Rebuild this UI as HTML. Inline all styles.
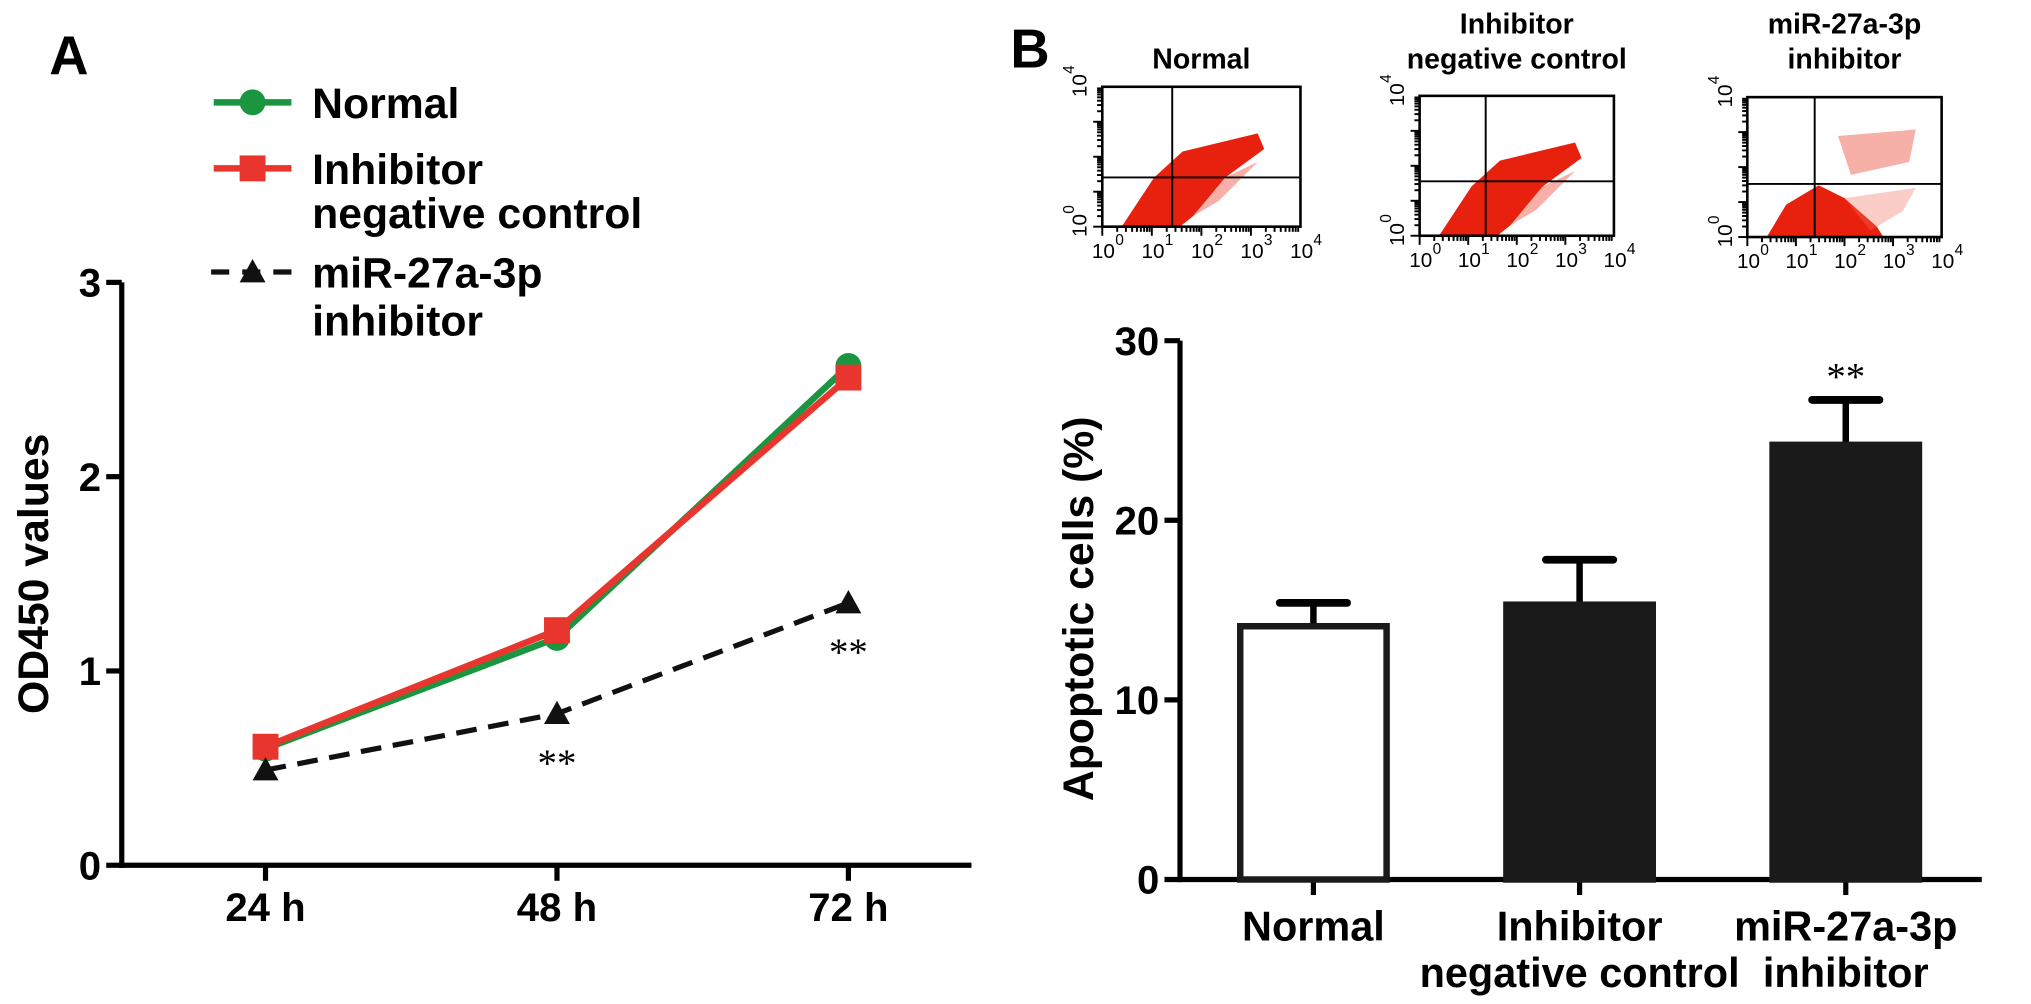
<!DOCTYPE html>
<html><head><meta charset="utf-8">
<style>
html,body{margin:0;padding:0;background:#fff;}
svg{display:block;font-family:"Liberation Sans",Arial,sans-serif;}
</style></head>
<body>
<svg id="fig" width="2031" height="1004" viewBox="0 0 2031 1004" xmlns="http://www.w3.org/2000/svg">
<g transform="scale(1.29528)">
<text x="38" y="57" font-size="42" font-weight="bold">A</text>
<text x="780" y="52" font-size="42" font-weight="bold">B</text>
<g id="chartA"></g>
<g id="flow"></g>
<g id="chartB"></g>
</g>
</svg>
<script>
const NS='http://www.w3.org/2000/svg';
// ---- Chart A data ----
const timeCats=['24 h','48 h','72 h'];
const normalVals=[0.60,1.17,2.57];
const ncVals=[0.61,1.21,2.51];
const inhVals=[0.49,0.78,1.35];
const aTicks=[0,1,2,3];
const sigA=['','**','**'];
// ---- Chart B data ----
const barCats=[['Normal'],['Inhibitor','negative control'],['miR-27a-3p','inhibitor']];
const barVals=[14.1,15.3,24.2];
const barErr=[1.3,2.5,2.5];
const bTicks=[0,10,20,30];
const sigB=['','','**'];
const flowTitles=[['Normal'],['Inhibitor','negative control'],['miR-27a-3p','inhibitor']];

function mk(parent,tag,attrs,text){const e=document.createElementNS(NS,tag);for(const k in attrs)e.setAttribute(k,attrs[k]);if(text!==undefined)e.textContent=text;parent.appendChild(e);return e;}

// Chart A
const A=document.getElementById('chartA');
const ax0=94, ay0=668, ayScale=150;
const yA=v=>ay0-v*ayScale;
const xA=i=>205+i*225;
let e;
e=mk(A,'line',{x1:ax0,y1:yA(3),x2:ax0,y2:ay0+2,stroke:'#000','stroke-width':4});


e=mk(A,'line',{x1:ax0-2,y1:ay0,x2:750,y2:ay0,stroke:'#000','stroke-width':4});


aTicks.forEach(t=>{
  mk(A,'line',{x1:ax0-12,y1:yA(t),x2:ax0,y2:yA(t),stroke:'#000','stroke-width':4});
  e=mk(A,'text',{x:ax0-16,y:yA(t)+11,'font-size':31,'font-weight':'bold','text-anchor':'end'},String(t));
  
  
});
timeCats.forEach((c,i)=>{
  mk(A,'line',{x1:xA(i),y1:ay0,x2:xA(i),y2:ay0+12,stroke:'#000','stroke-width':4});
  e=mk(A,'text',{x:xA(i),y:711,'font-size':31,'font-weight':'bold','text-anchor':'middle'},c);
  
  
});
e=mk(A,'text',{x:0,y:0,'font-size':33,'font-weight':'bold','text-anchor':'middle',transform:'translate(37,443) rotate(-90)'},'OD450 values');


function series(vals,color,dash,name){
  const pts=vals.map((v,i)=>xA(i)+','+yA(v)).join(' ');
  const p=mk(A,'polyline',{points:pts,fill:'none',stroke:color,'stroke-width':dash?4:5,'stroke-dasharray':dash?'16,9':'none'});
  
  
}
function marker(g,shape,x,y,color,name){
  let m;
  if(shape==='circle')m=mk(g,'circle',{cx:x,cy:y,r:10,fill:color});
  else if(shape==='square')m=mk(g,'rect',{x:x-10,y:y-10,width:20,height:20,fill:color});
  else m=mk(g,'polygon',{points:`${x},${y-10} ${x+10},${y+8} ${x-10},${y+8}`,fill:color});
  
  
}
series(normalVals,'#1a9641',false,'normal');
series(inhVals,'#111',true,'inhibitor');
series(ncVals,'#e8362e',false,'negative-control');
normalVals.forEach((v,i)=>marker(A,'circle',xA(i),yA(v),'#1a9641','normal-point'));
ncVals.forEach((v,i)=>marker(A,'square',xA(i),yA(v),'#e8362e','negative-control-point'));
inhVals.forEach((v,i)=>marker(A,'tri',xA(i),yA(v),'#111','inhibitor-point'));
sigA.forEach((s,i)=>{if(!s)return;
  e=mk(A,'text',{x:xA(i),y:yA(inhVals[i])+48,'font-size':30,'text-anchor':'middle','font-family':'Liberation Serif,serif'},s);
  
  
});
// legend
const L=mk(A,'g',{});


mk(L,'line',{x1:165,y1:79,x2:225,y2:79,stroke:'#1a9641','stroke-width':5});
marker(L,'circle',195,79,'#1a9641','legend-normal-marker');
mk(L,'line',{x1:165,y1:130,x2:225,y2:130,stroke:'#e8362e','stroke-width':5});
marker(L,'square',195,130,'#e8362e','legend-nc-marker');
mk(L,'line',{x1:163,y1:210,x2:228,y2:210,stroke:'#111','stroke-width':4,'stroke-dasharray':'14,10'});
marker(L,'tri',195,210,'#111','legend-inhibitor-marker');
[['Normal',91],['Inhibitor',142],['negative control',176],['miR-27a-3p',222],['inhibitor',259]].forEach(([t,y])=>{
  e=mk(L,'text',{x:241,y:y,'font-size':33,'font-weight':'bold'},t);
  
  
});

// Flow plots
const F=document.getElementById('flow');
const boxes=[[851,67,153],[1096,74,150],[1349,75,150]];
const crossOffX=[54,51,52], crossOffY=[70,66,67];
const bh=108;
boxes.forEach((b,k)=>{
  const g=mk(F,'g',{});
  
  
  const x=b[0],y=b[1],bw=b[2];
  const cx=x+bw/2;
  flowTitles[k].forEach((t,j)=>{
    e=mk(g,'text',{x:cx,y:flowTitles[k].length===1?53:(26+j*27),'font-size':22,'font-weight':'bold','text-anchor':'middle'},t);
    
    
  });
  const B0=y+bh;
  if(k<2){
    mk(g,'polygon',{points:`${x+15},${B0} ${x+40},${B0-38} ${x+62},${B0-58} ${x+120},${B0-72} ${x+125},${B0-60} ${x+95},${B0-38} ${x+70},${B0-8} ${x+60},${B0}`,fill:'#e8200e'});
    mk(g,'polygon',{points:`${x+70},${B0-8} ${x+95},${B0-38} ${x+120},${B0-50} ${x+90},${B0-20}`,fill:'#f27a6c',opacity:0.6});
  } else {
    mk(g,'polygon',{points:`${x+15},${B0} ${x+30},${B0-25} ${x+55},${B0-40} ${x+75},${B0-30} ${x+100},${B0-8} ${x+105},${B0}`,fill:'#e8200e'});
    mk(g,'polygon',{points:`${x+70},${y+30} ${x+130},${y+25} ${x+125},${y+50} ${x+80},${y+60}`,fill:'#f0705f',opacity:0.55});
    mk(g,'polygon',{points:`${x+75},${B0-30} ${x+130},${y+70} ${x+120},${B0-20} ${x+95},${B0-5}`,fill:'#f0705f',opacity:0.35});
  }
  mk(g,'rect',{x:x,y:y,width:bw,height:bh,fill:'none',stroke:'#000','stroke-width':2});
  mk(g,'line',{x1:x+crossOffX[k],y1:y,x2:x+crossOffX[k],y2:y+bh,stroke:'#000','stroke-width':1.5});
  mk(g,'line',{x1:x,y1:y+crossOffY[k],x2:x+bw,y2:y+crossOffY[k],stroke:'#000','stroke-width':1.5});
  for(let d=0;d<4;d++){
    const tx=x+d*bw/4;
    for(let m=1;m<10;m++){const xx=tx+Math.log10(m)*bw/4;mk(g,'line',{x1:xx,y1:y+bh,x2:xx,y2:y+bh+(m===1?7:4),stroke:'#000','stroke-width':1.5});}
    const ty=y+bh-d*bh/4;
    for(let m=1;m<10;m++){const yy=ty-Math.log10(m)*bh/4;mk(g,'line',{x1:x,y1:yy,x2:x-(m===1?7:4),y2:yy,stroke:'#000','stroke-width':1.5});}
  }
  for(let d=0;d<=4;d++){
    const lx=x+d*bw/4;
    e=mk(g,'text',{x:lx-8,y:y+bh+24,'font-size':16},'10');
    
    
    mk(g,'text',{x:lx+10,y:y+bh+14,'font-size':12},String(d));
  }
  [[0,y+bh],[4,y]].forEach(([d,yy])=>{
    e=mk(g,'text',{x:0,y:0,'font-size':16,transform:`translate(${x-12},${yy+8}) rotate(-90)`},'10');
    
    
    mk(g,'text',{x:0,y:0,'font-size':12,transform:`translate(${x-22},${yy-10}) rotate(-90)`},String(d));
  });
});

// Chart B
const B=document.getElementById('chartB');
const bx0=911, by0=679, byScale=(679-263)/30;
const yB=v=>by0-v*byScale;
const xB=i=>1014+i*205.5;
const barW=113;
e=mk(B,'line',{x1:bx0,y1:yB(30),x2:bx0,y2:by0+2,stroke:'#000','stroke-width':4});


e=mk(B,'line',{x1:bx0-2,y1:by0,x2:1530,y2:by0,stroke:'#000','stroke-width':4});


bTicks.forEach(t=>{
  mk(B,'line',{x1:bx0-12,y1:yB(t),x2:bx0,y2:yB(t),stroke:'#000','stroke-width':4});
  e=mk(B,'text',{x:bx0-16,y:yB(t)+11,'font-size':31,'font-weight':'bold','text-anchor':'end'},String(t));
  
  
});
e=mk(B,'text',{x:0,y:0,'font-size':33,'font-weight':'bold','text-anchor':'middle',transform:'translate(844,470) rotate(-90)'},'Apoptotic  cells (%)');


barVals.forEach((v,i)=>{
  const cx=xB(i);
  const top=yB(v+barErr[i]);
  mk(B,'line',{x1:cx,y1:by0,x2:cx,y2:by0+12,stroke:'#000','stroke-width':4});
  const ew=mk(B,'line',{x1:cx,y1:yB(v),x2:cx,y2:top,stroke:'#000','stroke-width':5});
  
  
  mk(B,'line',{x1:cx-26,y1:top,x2:cx+26,y2:top,stroke:'#000','stroke-width':6,'stroke-linecap':'round'});
  const r=mk(B,'rect',{x:cx-barW/2,y:yB(v),width:barW,height:by0-yB(v),fill:i===0?'#fff':'#1a1a1a',stroke:'#1a1a1a','stroke-width':5});
  
  
  barCats[i].forEach((t,j)=>{
    e=mk(B,'text',{x:cx,y:726+j*36,'font-size':32,'font-weight':'bold','text-anchor':'middle'},t);
    
    
  });
  if(sigB[i]){
    e=mk(B,'text',{x:cx,y:top-8,'font-size':30,'text-anchor':'middle','font-family':'Liberation Serif,serif'},sigB[i]);
    
    
  }
});
</script>
</body></html>
